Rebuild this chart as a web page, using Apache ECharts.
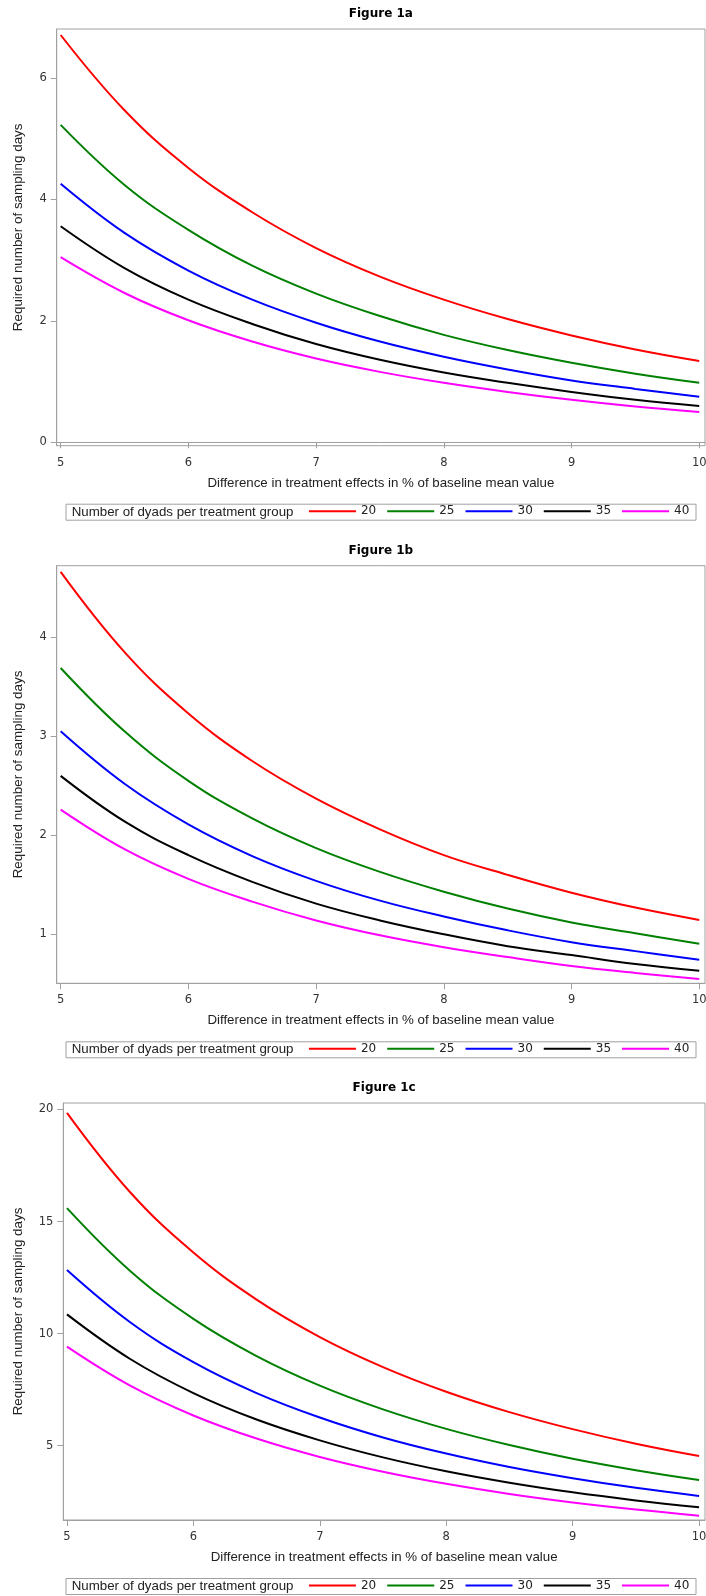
<!DOCTYPE html>
<html>
<head>
<meta charset="utf-8">
<script src="https://cdn.jsdelivr.net/npm/echarts@6/dist/echarts.min.js"></script>
<style>
  body { margin: 0; background: #fff; }
  #main { width: 706px; height: 1596px; }
</style>
</head>
<body>
<div id="main"></div>
<script type="text/javascript">
// x: difference in treatment effects (% of baseline mean value)
var xValues = [5, 5.5, 6, 6.5, 7, 7.5, 8, 8.5, 9, 9.5, 10];
var groupNames = ['20', '25', '30', '35', '40'];
var groupColors = ['#ff0000', '#008000', '#0000ff', '#000000', '#ff00ff'];

// Figure 1a - required number of sampling days
var fig1a_20 = [6.71, 5.47, 4.52, 3.79, 3.20, 2.73, 2.35, 2.03, 1.76, 1.53, 1.34];
var fig1a_25 = [5.23, 4.24, 3.50, 2.91, 2.45, 2.08, 1.77, 1.52, 1.31, 1.13, 0.98];
var fig1a_30 = [4.26, 3.45, 2.83, 2.35, 1.97, 1.66, 1.41, 1.20, 1.02, 0.88, 0.75];
var fig1a_35 = [3.56, 2.87, 2.35, 1.95, 1.62, 1.36, 1.15, 0.98, 0.83, 0.70, 0.60];
var fig1a_40 = [3.05, 2.46, 2.01, 1.66, 1.38, 1.16, 0.98, 0.83, 0.70, 0.59, 0.50];

// Figure 1b
var fig1b_20 = [4.66, 3.85, 3.23, 2.75, 2.37, 2.06, 1.80, 1.60, 1.42, 1.27, 1.145];
var fig1b_25 = [3.69, 3.05, 2.55, 2.17, 1.87, 1.63, 1.43, 1.26, 1.12, 1.01, 0.905];
var fig1b_30 = [3.05, 2.52, 2.11, 1.79, 1.54, 1.34, 1.18, 1.04, 0.92, 0.83, 0.743];
var fig1b_35 = [2.60, 2.14, 1.80, 1.53, 1.31, 1.14, 1.00, 0.88, 0.79, 0.70, 0.632];
var fig1b_40 = [2.26, 1.86, 1.56, 1.33, 1.14, 0.99, 0.87, 0.77, 0.68, 0.61, 0.548];

// Figure 1c
var fig1c_20 = [19.85, 16.31, 13.62, 11.52, 9.85, 8.51, 7.41, 6.50, 5.74, 5.09, 4.54];
var fig1c_25 = [15.60, 12.80, 10.66, 9.00, 7.68, 6.62, 5.75, 5.03, 4.42, 3.91, 3.47];
var fig1c_30 = [12.84, 10.51, 8.73, 7.35, 6.26, 5.37, 4.65, 4.05, 3.55, 3.12, 2.76];
var fig1c_35 = [10.86, 8.87, 7.35, 6.17, 5.24, 4.48, 3.86, 3.35, 2.92, 2.56, 2.25];
var fig1c_40 = [9.42, 7.68, 6.35, 5.32, 4.50, 3.84, 3.30, 2.85, 2.47, 2.15, 1.88];

// tick labels
var xTicks = [5, 6, 7, 8, 9, 10];
var yTicks1a = [0, 2, 4, 6];
var yTicks1b = [1, 2, 3, 4];
var yTicks1c = [5, 10, 15, 20];

var xTitle = 'Difference in treatment effects in % of baseline mean value';
var yTitle = 'Required number of sampling days';
var legendTitle = 'Number of dyads per treatment group';

var panels = [
  { title: 'Figure 1a', data: [fig1a_20, fig1a_25, fig1a_30, fig1a_35, fig1a_40], yTicks: yTicks1a,
    grid: { left: 56.7, top: 29, width: 648.3, height: 416.7 },
    xMin: 4.969, xMax: 10.045, yMin: -0.056, yMax: 6.809, nameGap: 32, namePad: [0, 0, 0, 20] },
  { title: 'Figure 1b', data: [fig1b_20, fig1b_25, fig1b_30, fig1b_35, fig1b_40], yTicks: yTicks1b,
    grid: { left: 56.7, top: 565.7, width: 648.3, height: 417.6 },
    xMin: 4.969, xMax: 10.045, yMin: 0.505, yMax: 4.723, nameGap: 32, namePad: 0 },
  { title: 'Figure 1c', data: [fig1c_20, fig1c_25, fig1c_30, fig1c_35, fig1c_40], yTicks: yTicks1c,
    grid: { left: 63.3, top: 1103, width: 641.7, height: 417 },
    xMin: 4.971, xMax: 10.047, yMin: 1.686, yMax: 20.29, nameGap: 38, namePad: 0 }
];

var frameColor = '#a0a0a0';
var textColor = '#222';
var grids = [], xAxes = [], yAxes = [], series = [], legends = [], graphics = [];

panels.forEach(function (p, i) {
  grids.push({
    left: p.grid.left, top: p.grid.top, width: p.grid.width, height: p.grid.height,
    outerBoundsMode: 'none', containLabel: false,
    show: true, borderColor: frameColor, borderWidth: 1, backgroundColor: 'transparent'
  });
  xAxes.push({
    type: 'value', gridIndex: i, min: p.xMin, max: p.xMax,
    name: xTitle, nameLocation: 'middle', nameGap: 31,
    nameTextStyle: { fontFamily: 'Liberation Sans', fontSize: 13.3, color: textColor },
    axisLine: { show: true, lineStyle: { color: frameColor } },
    axisTick: { show: true, length: 6, customValues: xTicks, lineStyle: { color: frameColor } },
    axisLabel: { customValues: xTicks, margin: 11, fontFamily: 'DejaVu Sans', fontSize: 11.5, color: '#333' },
    splitLine: { show: false }
  });
  yAxes.push({
    type: 'value', gridIndex: i, min: p.yMin, max: p.yMax,
    name: yTitle, nameLocation: 'middle', nameGap: p.nameGap,
    nameTextStyle: { fontFamily: 'Liberation Sans', fontSize: 13.4, color: textColor, padding: p.namePad },
    axisLine: { show: true, lineStyle: { color: frameColor } },
    axisTick: { show: true, length: 6, customValues: p.yTicks, lineStyle: { color: frameColor } },
    axisLabel: { customValues: p.yTicks, margin: 10, fontFamily: 'DejaVu Sans', fontSize: 11.5, color: '#333' },
    splitLine: { show: false }
  });
  p.data.forEach(function (vals, k) {
    series.push({
      type: 'line', name: groupNames[k], xAxisIndex: i, yAxisIndex: i,
      data: xValues.map(function (x, j) { return [x, vals[j]]; }),
      smooth: 0.4, symbol: 'none',
      lineStyle: { width: 2, color: groupColors[k] },
      itemStyle: { color: groupColors[k] }
    });
  });

  var frameBottom = p.grid.top + p.grid.height;
  var legendY = frameBottom + 66.5;
  legends.push({
    data: groupNames, right: 16.7, top: legendY - 7, orient: 'horizontal',
    icon: 'rect', itemWidth: 47, itemHeight: 2, itemGap: 11, padding: 0,
    selectedMode: false,
    textStyle: { fontFamily: 'DejaVu Sans', fontSize: 12, color: textColor }
  });
  graphics.push({
    type: 'rect', shape: { x: 66, y: legendY - 8, width: 630, height: 16 },
    style: { fill: 'none', stroke: frameColor, lineWidth: 1 }, silent: true
  });
  graphics.push({
    type: 'text', x: 71.7, y: legendY,
    style: { text: legendTitle, fontFamily: 'Liberation Sans', fontSize: 13.3, fill: textColor,
             verticalAlign: 'middle', align: 'left' }, silent: true
  });
  graphics.push({
    type: 'text', x: p.grid.left + p.grid.width / 2, y: p.grid.top - 15,
    style: { text: p.title, fontFamily: 'DejaVu Sans', fontWeight: 'bold', fontSize: 12, fill: '#000',
             align: 'center', verticalAlign: 'middle' }, silent: true
  });
});

var myChart = echarts.init(document.getElementById('main'), null, { renderer: 'canvas' });
var option = {
  backgroundColor: '#fff',
  animation: false,
  grid: grids,
  xAxis: xAxes,
  yAxis: yAxes,
  legend: legends,
  graphic: graphics,
  series: series
};
myChart.setOption(option);
</script>
</body>
</html>
